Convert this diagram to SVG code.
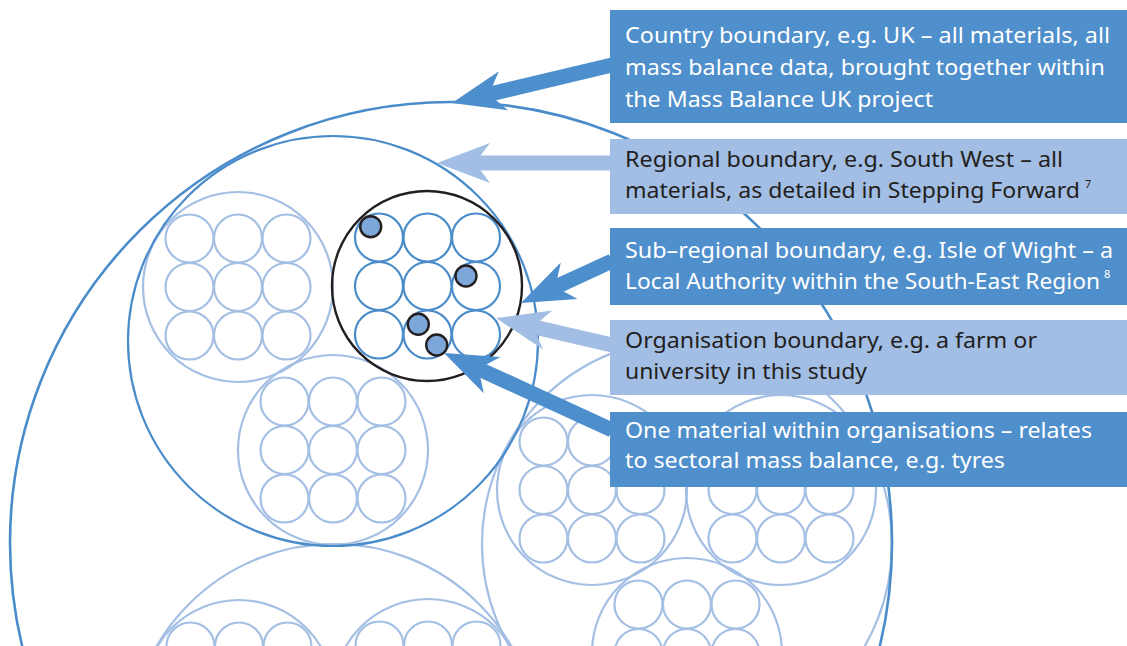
<svg xmlns="http://www.w3.org/2000/svg" xmlns:xlink="http://www.w3.org/1999/xlink" width="1127" height="646" viewBox="0 0 1127 646">
<style>
.light{fill:none;stroke:#a4bfe4;stroke-width:2.2}
.dark{fill:none;stroke:#4a8cca;stroke-width:2.2}
.country{fill:none;stroke:#4a8cca;stroke-width:2.6}
.black{fill:none;stroke:#231f20;stroke-width:2.4}
.dot{fill:#7ea7d9;stroke:#231f20;stroke-width:2.4}
.boxD{fill:#4f8fcc}
.boxL{fill:#a2bee4}
.t{font-family:"Noto Sans","Open Sans","Liberation Sans",sans-serif;font-size:21px}
.tw{fill:#ffffff}
.tk{fill:#231f20}
.sup{font-family:"Noto Sans","Liberation Sans",sans-serif;font-size:11px}
.shD{stroke:#4d8fcc;stroke-width:15;fill:none}
.shL{stroke:#a2bee4;stroke-width:15;fill:none}
</style>
<defs>
<g id="grid">
<circle cx="-48.5" cy="-48.5" r="24"/><circle cx="0" cy="-48.5" r="24"/><circle cx="48.5" cy="-48.5" r="24"/>
<circle cx="-48.5" cy="0" r="24"/><circle cx="0" cy="0" r="24"/><circle cx="48.5" cy="0" r="24"/>
<circle cx="-48.5" cy="48.5" r="24"/><circle cx="0" cy="48.5" r="24"/><circle cx="48.5" cy="48.5" r="24"/>
</g>
<g id="org">
<circle cx="0" cy="0" r="95"/>
<use xlink:href="#grid" href="#grid"/>
</g>
<marker id="ahD" markerUnits="userSpaceOnUse" viewBox="-60 -25 64 50" markerWidth="64" markerHeight="50" refX="-36" refY="0" orient="auto" overflow="visible">
<path d="M0,0 L-53,-20 L-38,0 L-53,20 Z" fill="#4d8fcc"/>
</marker>
<marker id="ahL" markerUnits="userSpaceOnUse" viewBox="-60 -25 64 50" markerWidth="64" markerHeight="50" refX="-36" refY="0" orient="auto" overflow="visible">
<path d="M0,0 L-53,-20 L-38,0 L-53,20 Z" fill="#a2bee4"/>
</marker>
</defs>

<g id="region-east" class="light">
<circle cx="687" cy="544" r="205"/>
<use xlink:href="#org" href="#org" x="592" y="490"/>
<use xlink:href="#org" href="#org" x="781" y="490"/>
<use xlink:href="#org" href="#org" x="687" y="653"/>
</g>
<g id="region-south" class="light">
<circle cx="334" cy="749" r="205"/>
<use xlink:href="#org" href="#org" x="239" y="695"/>
<use xlink:href="#org" href="#org" x="428" y="694"/>
<use xlink:href="#org" href="#org" x="334" y="858"/>
</g>
<g id="orgs-southwest" class="light">
<use xlink:href="#org" href="#org" x="238" y="287"/>
<use xlink:href="#org" href="#org" x="333" y="450"/>
</g>
<g id="region-southwest" class="dark">
<circle cx="333" cy="341" r="205"/>
</g>
<g id="country">
<circle class="country" cx="451" cy="543" r="441"/>
</g>
<g id="subregion">
<use class="dark" xlink:href="#grid" href="#grid" x="427.5" y="286"/>
<circle class="black" cx="427" cy="286" r="95"/>
</g>
<g id="materials">
<circle class="dot" cx="370.7" cy="226.7" r="10.5"/>
<circle class="dot" cx="466" cy="276" r="10.5"/>
<circle class="dot" cx="418.3" cy="324.3" r="10.5"/>
<circle class="dot" cx="436.7" cy="345" r="10.5"/>
</g>

<g id="connectors">
<line class="shD" x1="612" y1="65" x2="487" y2="94.7" marker-end="url(#ahD)"/>
<line class="shL" x1="612" y1="163" x2="473" y2="163" marker-end="url(#ahL)"/>
<line class="shD" x1="612" y1="261" x2="553.7" y2="287.9" marker-end="url(#ahD)"/>
<line class="shL" x1="612" y1="345" x2="531.1" y2="326.2" marker-end="url(#ahL)"/>
<line class="shD" x1="612" y1="430" x2="476.7" y2="368" marker-end="url(#ahD)"/>
</g>

<g id="box-country">
<rect class="boxD" x="610" y="10" width="517" height="113"/>
<text class="t tw" x="625" y="43" textLength="485" lengthAdjust="spacingAndGlyphs">Country boundary, e.g. UK – all materials, all</text>
<text class="t tw" x="625" y="75" textLength="480" lengthAdjust="spacingAndGlyphs">mass balance data, brought together within</text>
<text class="t tw" x="625" y="107" textLength="308" lengthAdjust="spacingAndGlyphs">the Mass Balance UK project</text>
</g>
<g id="box-regional">
<rect class="boxL" x="610" y="139" width="517" height="75"/>
<text class="t tk" x="625" y="167" textLength="438" lengthAdjust="spacingAndGlyphs">Regional boundary, e.g. South West – all</text>
<text class="t tk" x="625" y="198" textLength="455" lengthAdjust="spacingAndGlyphs">materials, as detailed in Stepping Forward</text>
<text class="sup tk" x="1085" y="188">7</text>
</g>
<g id="box-subregional">
<rect class="boxD" x="610" y="228" width="517" height="77"/>
<text class="t tw" x="625" y="258" textLength="488" lengthAdjust="spacingAndGlyphs">Sub–regional boundary, e.g. Isle of Wight – a</text>
<text class="t tw" x="625" y="289" textLength="475" lengthAdjust="spacingAndGlyphs">Local Authority within the South-East Region</text>
<text class="sup tw" x="1104" y="278">8</text>
</g>
<g id="box-organisation">
<rect class="boxL" x="610" y="320" width="517" height="75"/>
<text class="t tk" x="625" y="348" textLength="412" lengthAdjust="spacingAndGlyphs">Organisation boundary, e.g. a farm or</text>
<text class="t tk" x="625" y="379" textLength="242" lengthAdjust="spacingAndGlyphs">university in this study</text>
</g>
<g id="box-material">
<rect class="boxD" x="610" y="412" width="517" height="75"/>
<text class="t tw" x="625" y="438" textLength="467" lengthAdjust="spacingAndGlyphs">One material within organisations – relates</text>
<text class="t tw" x="625" y="468" textLength="380" lengthAdjust="spacingAndGlyphs">to sectoral mass balance, e.g. tyres</text>
</g>
</svg>
